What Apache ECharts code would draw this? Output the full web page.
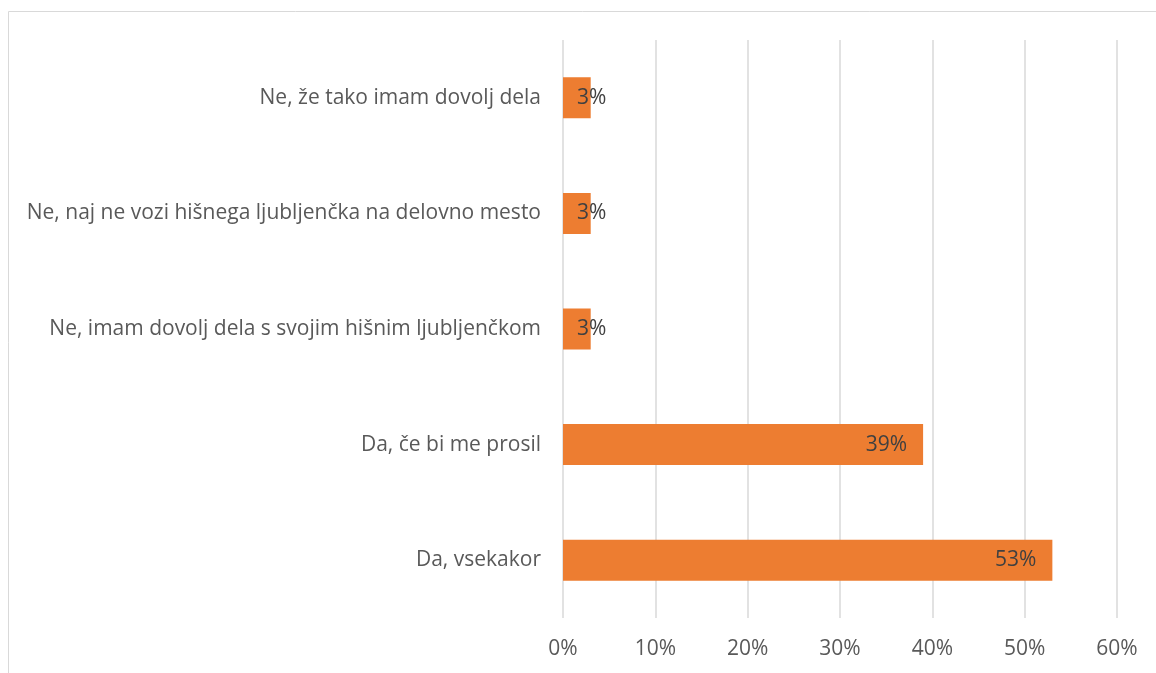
<!DOCTYPE html>
<html>
<head>
<meta charset="utf-8">
<script src="https://cdn.jsdelivr.net/npm/echarts@6/dist/echarts.min.js"></script>
<style>
html,body{margin:0;padding:0;background:#fff;}
#chart{width:1156px;height:673px;}
</style>
</head>
<body>
<div id="chart"></div>
<script>
var categories = [
    'Da, vsekakor',
    'Da, če bi me prosil',
    'Ne, imam dovolj dela s svojim hišnim ljubljenčkom',
    'Ne, naj ne vozi hišnega ljubljenčka na delovno mesto',
    'Ne, že tako imam dovolj dela'
];
var values = [53, 39, 3, 3, 3];
var xTicks = [0, 10, 20, 30, 40, 50, 60];

var fontName = 'Open Sans';

var chart = echarts.init(document.getElementById('chart'));

// majhne vrednosti: napis ne gre v stolpec, zato ga zamaknemo
var barData = values.map(function(v){
    if (v < 10) {
        return {
            value: v,
            label: {position: 'insideLeft', distance: 14}
        };
    }
    return v;
});

var option = {
    animation: false,
    graphic: [{
        type: 'rect',
        shape: {x: 8.5, y: 11.5, width: 1300, height: 800},
        style: {fill: 'none', stroke: '#d9d9d9', lineWidth: 1},
        silent: true
    }],
    grid: {left: 563, right: 39, top: 40, bottom: 55},
    xAxis: {
        type: 'value',
        min: xTicks[0],
        max: xTicks[xTicks.length - 1],
        interval: 10,
        axisLine: {show: false},
        axisTick: {show: false},
        splitLine: {lineStyle: {color: '#d9d9d9', width: 1.5}},
        axisLabel: {
            formatter: '{value}%',
            color: '#595959',
            fontSize: 21,
            fontFamily: fontName,
            margin: 21
        }
    },
    yAxis: {
        type: 'category',
        data: categories,
        axisLine: {show: false},
        axisTick: {show: false},
        axisLabel: {
            color: '#595959',
            fontSize: 21,
            fontFamily: fontName,
            margin: 22
        }
    },
    series: [{
        type: 'bar',
        data: barData,
        barWidth: 41,
        itemStyle: {color: '#ed7d31'},
        label: {
            show: true,
            position: 'insideRight',
            distance: 16,
            formatter: '{c}%',
            color: '#404040',
            fontSize: 21,
            fontFamily: fontName
        }
    }]
};
chart.setOption(option);
</script>
</body>
</html>
